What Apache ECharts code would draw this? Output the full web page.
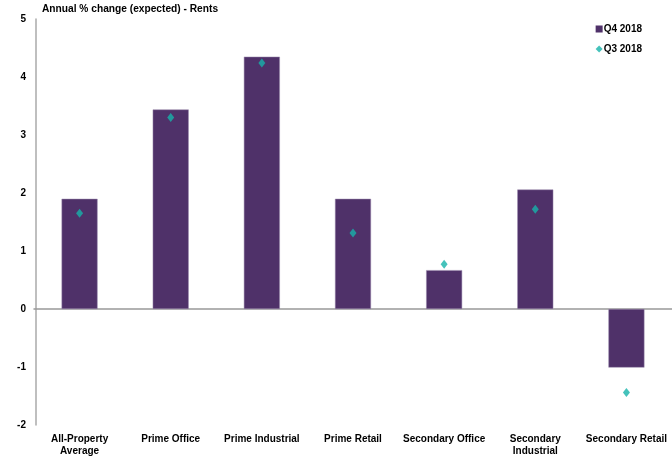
<!DOCTYPE html>
<html>
<head>
<meta charset="utf-8">
<script src="https://cdn.jsdelivr.net/npm/echarts@6/dist/echarts.min.js"></script>
<style>
  html, body { margin: 0; padding: 0; background: #fff; }
  #chart { width: 672px; height: 457px; }
</style>
</head>
<body>
<div id="chart"></div>
<script>
// categories and values
const categories = ['All-Property\nAverage', 'Prime Office', 'Prime Industrial', 'Prime Retail',
  'Secondary Office', 'Secondary\nIndustrial', 'Secondary Retail'];
const q4_2018 = [1.9, 3.44, 4.35, 1.9, 0.67, 2.06, -1.01];
const q3_2018 = [1.65, 3.3, 4.24, 1.31, 0.77, 1.72, -1.44];

const chart = echarts.init(document.getElementById('chart'));

const font = 'Arial, "Liberation Sans", sans-serif';

chart.setOption({
  animation: false,
  textStyle: { fontFamily: font },
  title: {
    text: 'Annual % change (expected) - Rents',
    left: 37, top: -1,
    textStyle: { fontSize: 10.2, fontWeight: 'bold', color: '#000', fontFamily: font }
  },
  legend: {
    orient: 'vertical',
    right: 25, top: 19,
    itemWidth: 7, itemHeight: 7, itemGap: 10,
    itemStyle: { borderWidth: 0 },
    textStyle: { fontSize: 10, fontWeight: 'bold', color: '#000', fontFamily: font, padding: [0, 0, 0, -4] },
    data: [
      { name: 'Q4 2018', icon: 'rect' },
      { name: 'Q3 2018', icon: 'diamond' }
    ]
  },
  grid: { left: 34, top: 19, bottom: 30, right: 0 },
  xAxis: [
    {
      type: 'category',
      data: categories,
      position: 'bottom',
      axisLine: { show: false, onZero: false },
      axisTick: { show: false },
      axisLabel: {
        interval: 0, margin: 8, fontSize: 10, fontWeight: 'bold',
        color: '#000', lineHeight: 12, fontFamily: font
      }
    },
    {
      type: 'category',
      data: categories,
      position: 'bottom',
      axisLine: { show: true, onZero: true, lineStyle: { color: '#999', width: 1.5 } },
      axisTick: { show: false },
      axisLabel: { show: false }
    }
  ],
  yAxis: {
    type: 'value',
    min: -2, max: 5, interval: 1,
    offset: -2,
    splitLine: { show: false },
    axisLine: { show: true, lineStyle: { color: '#aaa', width: 1.5 } },
    axisTick: { show: false },
    axisLabel: { fontSize: 10, fontWeight: 'bold', color: '#000', margin: 10, fontFamily: font }
  },
  series: [
    {
      name: 'Q4 2018',
      type: 'bar',
      xAxisIndex: 0,
      data: q4_2018,
      barWidth: 36,
      itemStyle: { color: '#4f3169', borderColor: '#9d8cae', borderWidth: 0.5 }
    },
    {
      name: 'Q3 2018',
      type: 'scatter',
      xAxisIndex: 0,
      data: q3_2018,
      symbol: 'diamond',
      symbolSize: [7, 9],
      itemStyle: { color: '#16b3aa' },
      z: 5
    }
  ]
});
</script>
</body>
</html>
